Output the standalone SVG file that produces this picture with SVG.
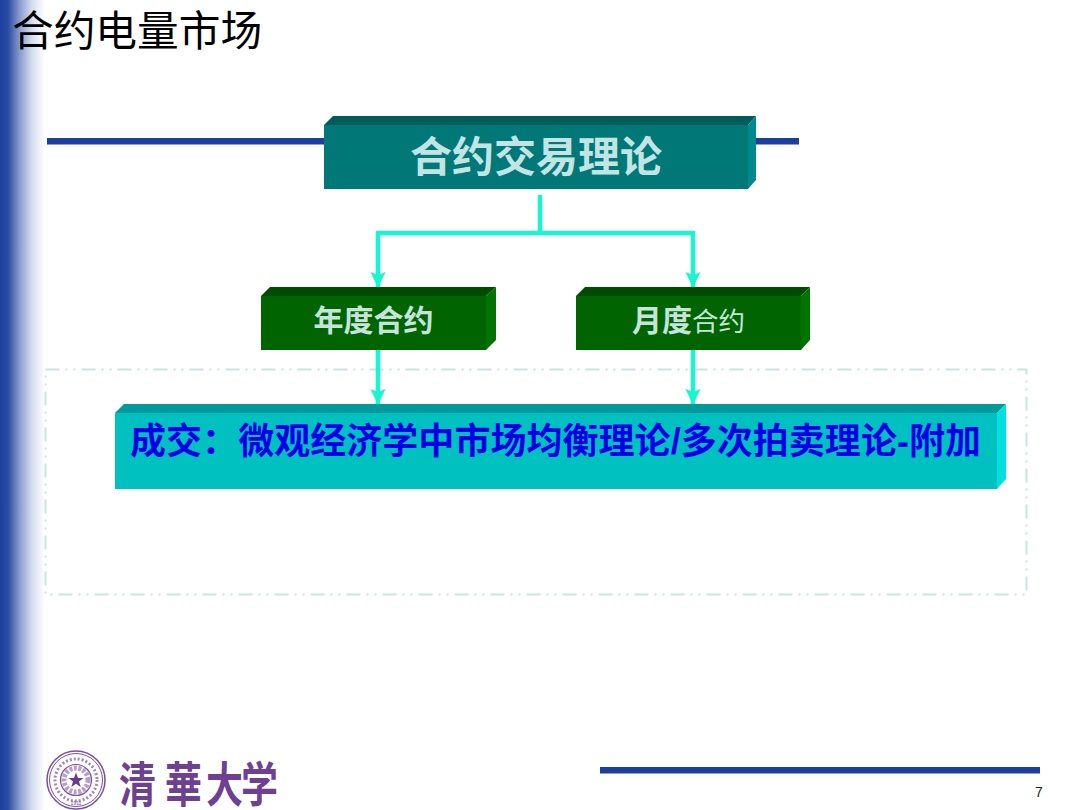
<svg xmlns="http://www.w3.org/2000/svg" width="1080" height="810" viewBox="0 0 1080 810">
<style>
text{font-family:"Liberation Sans","Noto Sans CJK SC",sans-serif}
.bar{fill:#1c3f9f}
.conn{fill:none;stroke:#19f5d0;stroke-width:4.5}
.seal{fill:none;stroke:#7d4f9c}
</style>
<defs>
<linearGradient id="side" x1="0" x2="1" y1="0" y2="0">
<stop offset="0" stop-color="#1c3f9f"/><stop offset="0.18" stop-color="#2a4ca4"/><stop offset="0.45" stop-color="#8c9fd0"/><stop offset="0.72" stop-color="#d8dfef"/><stop offset="1" stop-color="#ffffff"/>
</linearGradient>
<marker id="arrow" markerUnits="userSpaceOnUse" markerWidth="16" markerHeight="16" refX="15" refY="8" orient="auto">
<path d="M0 0.500L16 8L0 15.500L3 8Z" fill="#19f5d0"/>
</marker>
</defs>
<rect width="1080" height="810" fill="#fff"/>
<rect id="sidebar" x="0" y="0" width="45" height="810" fill="url(#side)"/>
<text id="title" x="12" y="46" font-size="41.700" fill="#000">合约电量市场</text>
<rect class="bar" x="47" y="138" width="278" height="6.500"/>
<rect class="bar" x="755" y="138" width="44" height="6.500"/>
<rect class="bar" x="600" y="767" width="440" height="6.500"/>
<rect id="frame" x="45.500" y="369.500" width="981" height="225" fill="none" stroke="#c8e4e4" stroke-width="2" stroke-dasharray="14 6 2 6 2 6"/>
<g id="connectors">
<path class="conn" d="M540 195V233"/>
<path class="conn" d="M378 233H693"/>
<path class="conn" d="M378 231V287" marker-end="url(#arrow)"/>
<path class="conn" d="M693 231V287" marker-end="url(#arrow)"/>
<path class="conn" d="M378 348V404" marker-end="url(#arrow)"/>
<path class="conn" d="M693 348V404" marker-end="url(#arrow)"/>
</g>
<g id="node-theory">
<rect x="324" y="125" width="424" height="64" fill="#007878"/>
<path d="M324 125L333 116H756L748 125Z" fill="#005c5c"/>
<path d="M748 125L756 116V180L748 189Z" fill="#008a8a"/>
<text x="536" y="172" font-size="42" font-weight="700" fill="#c2e4e4" text-anchor="middle">合约交易理论</text>
</g>
<g id="node-annual">
<rect x="261" y="296" width="225" height="54" fill="#006400"/>
<path d="M261 296L270 287H496L486 296Z" fill="#004b00"/>
<path d="M486 296L496 287V340L486 350Z" fill="#007400"/>
<text x="373.500" y="331" font-size="30" font-weight="700" fill="#c6e4dc" text-anchor="middle">年度合约</text>
</g>
<g id="node-monthly">
<rect x="576" y="296" width="225" height="54" fill="#006400"/>
<path d="M576 296L585 287H810L801 296Z" fill="#004b00"/>
<path d="M801 296L810 287V340L801 350Z" fill="#007400"/>
<text x="632" y="331" font-size="30" font-weight="700" fill="#c6e4dc">月度<tspan font-size="26.500" font-weight="400">合约</tspan></text>
</g>
<g id="node-deal">
<rect x="115" y="413" width="882" height="76" fill="#00c0c0"/>
<path d="M115 413L124 404H1006L997 413Z" fill="#009a9a"/>
<path d="M997 413L1006 404V479L997 489Z" fill="#00e0e0"/>
<text x="130" y="454" font-size="36" font-weight="700" fill="#0000e6" textLength="851" lengthAdjust="spacing">成交：微观经济学中市场均衡理论/多次拍卖理论-附加</text>
</g>
<g id="logo">
<circle class="seal" cx="76" cy="780" r="29" stroke-width="1.500"/>
<circle class="seal" cx="76" cy="780" r="26.500" stroke-width="1"/>
<circle class="seal" cx="76" cy="780" r="21" stroke-width="3" stroke-dasharray="2 2" opacity=".7"/>
<circle class="seal" cx="76" cy="780" r="15.500" stroke-width="1.200"/>
<circle class="seal" cx="76" cy="780" r="12" stroke-width="5" stroke-dasharray="3 1.500" opacity=".55"/>
<path d="M76 772.500L78 778H83.500L79 781.500L80.700 787L76 783.700L71.300 787L73 781.500L68.500 778H74Z" fill="#6b3a8e"/>
<text x="76" y="804.500" font-size="5" fill="#7d4f9c" text-anchor="middle">1911</text>
<text transform="translate(0 802) scale(1 1.300)" x="119 165 206 241" y="0" font-size="37" font-weight="700" fill="#6f3f92">清華大学</text>
</g>
<text id="page" x="1035" y="797" font-size="14" fill="#222">7</text>
</svg>
